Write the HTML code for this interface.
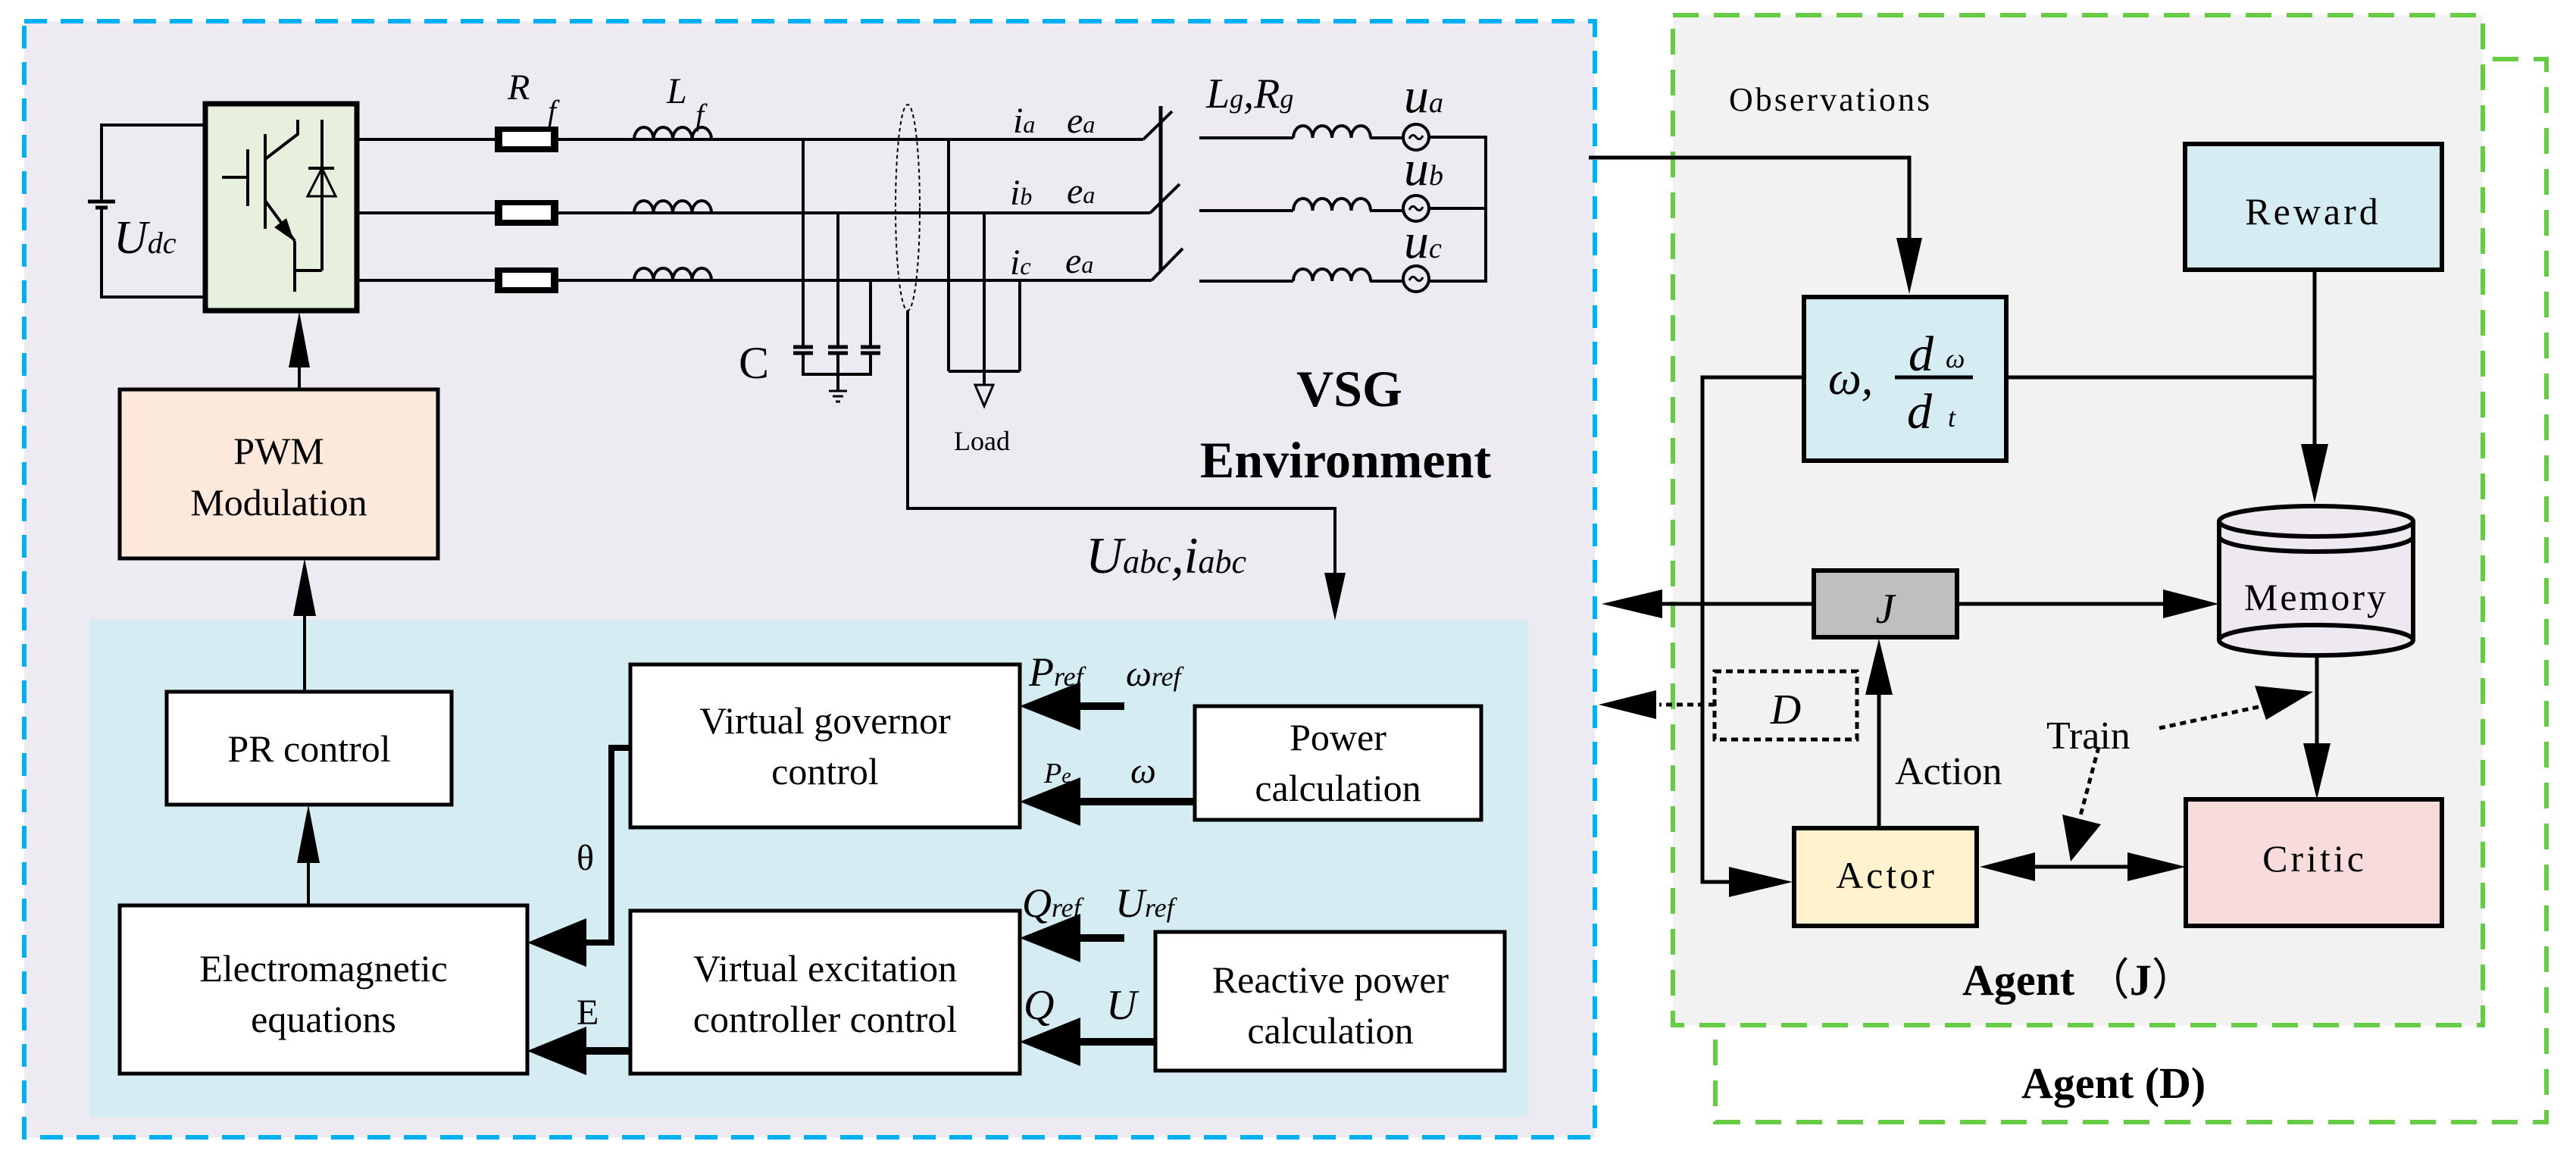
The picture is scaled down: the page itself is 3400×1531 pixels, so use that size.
<!DOCTYPE html>
<html><head><meta charset="utf-8"><style>
html,body{margin:0;padding:0;background:#fff}
svg{display:block}
svg text{font-family:"Liberation Serif","DejaVu Serif",serif;fill:#000}
</style></head><body>
<svg width="3400" height="1531" viewBox="0 0 3400 1531" xmlns="http://www.w3.org/2000/svg" font-family="Liberation Serif, DejaVu Serif, serif">
<!-- Agent D box -->
<rect x="2264" y="78" width="1097" height="1403" fill="#fff" stroke="#66cc44" stroke-width="6" stroke-dasharray="34,20"/>
<!-- Agent J box -->
<rect x="2208" y="20" width="1069" height="1333" fill="#f2f2f2" stroke="#66cc44" stroke-width="6" stroke-dasharray="34,20"/>
<!-- VSG env box -->
<rect x="32" y="28" width="2073" height="1473" fill="#eeeaf2" stroke="#00b0f0" stroke-width="6" stroke-dasharray="30,18"/>
<rect x="118" y="818" width="1900" height="656" fill="#d5ecf2"/>

<!-- inverter box fill -->
<rect x="271" y="137" width="200" height="273" fill="#e6f0dc"/>

<g stroke="#000" fill="none" stroke-width="4">
<polyline points="271,165 134,165 134,266"/>
<polyline points="271,392 134,392 134,274"/>
<line x1="116" y1="266" x2="152" y2="266" stroke-width="5"/>
<line x1="126" y1="274" x2="142" y2="274" stroke-width="5"/>
<line x1="474" y1="184" x2="1509" y2="184"/>
<line x1="474" y1="281" x2="1518" y2="281"/>
<line x1="474" y1="370" x2="1520" y2="370"/>
<line x1="1509" y1="184" x2="1547" y2="147"/>
<line x1="1518" y1="281" x2="1557" y2="243"/>
<line x1="1520" y1="370" x2="1561" y2="328"/>
<line x1="1532" y1="140" x2="1532" y2="357" stroke-width="5"/>
<line x1="1583" y1="182" x2="1707" y2="182"/>
<line x1="1583" y1="278" x2="1707" y2="278"/>
<line x1="1583" y1="371" x2="1707" y2="371"/>
<line x1="1808" y1="182" x2="1852" y2="182"/>
<line x1="1808" y1="278" x2="1852" y2="278"/>
<line x1="1808" y1="371" x2="1852" y2="371"/>
<polyline points="1886,181 1961,181 1961,371 1886,371"/>
<line x1="1886" y1="275" x2="1961" y2="275"/>
<circle cx="1869" cy="181" r="17"/><circle cx="1869" cy="275" r="17"/><circle cx="1869" cy="368" r="17"/>
<path d="M1860,183 q4,-8 9,-2 q5,6 9,-2" stroke-width="3"/>
<path d="M1860,277 q4,-8 9,-2 q5,6 9,-2" stroke-width="3"/>
<path d="M1860,370 q4,-8 9,-2 q5,6 9,-2" stroke-width="3"/>
<path d="M1707,182 a12.75,16 0 0 1 25.5,0 a12.75,16 0 0 1 25.5,0 a12.75,16 0 0 1 25.5,0 a12.75,16 0 0 1 25.5,0"/>
<path d="M1707,278 a12.75,16 0 0 1 25.5,0 a12.75,16 0 0 1 25.5,0 a12.75,16 0 0 1 25.5,0 a12.75,16 0 0 1 25.5,0"/>
<path d="M1707,371 a12.75,16 0 0 1 25.5,0 a12.75,16 0 0 1 25.5,0 a12.75,16 0 0 1 25.5,0 a12.75,16 0 0 1 25.5,0"/>
<line x1="1060" y1="184" x2="1060" y2="458"/>
<line x1="1106" y1="281" x2="1106" y2="458"/>
<line x1="1149" y1="370" x2="1149" y2="458"/>
<line x1="1047" y1="458" x2="1073" y2="458" stroke-width="5"/><line x1="1047" y1="466" x2="1073" y2="466" stroke-width="5"/>
<line x1="1093" y1="458" x2="1119" y2="458" stroke-width="5"/><line x1="1093" y1="466" x2="1119" y2="466" stroke-width="5"/>
<line x1="1136" y1="458" x2="1162" y2="458" stroke-width="5"/><line x1="1136" y1="466" x2="1162" y2="466" stroke-width="5"/>
<polyline points="1060,466 1060,494 1149,494 1149,466"/>
<line x1="1106" y1="466" x2="1106" y2="516"/>
<line x1="1094" y1="516" x2="1118" y2="516" stroke-width="3"/>
<line x1="1099" y1="523" x2="1113" y2="523" stroke-width="3"/>
<line x1="1103" y1="530" x2="1109" y2="530" stroke-width="3"/>
<line x1="1252" y1="184" x2="1252" y2="490"/>
<line x1="1299" y1="281" x2="1299" y2="508"/>
<line x1="1346" y1="370" x2="1346" y2="490"/>
<line x1="1252" y1="490" x2="1346" y2="490"/>
<polygon points="1287,508 1311,508 1299,536" stroke-width="3"/>
<ellipse cx="1198" cy="274" rx="16" ry="136" stroke-width="2" stroke-dasharray="5,4"/>
<polyline points="1198,410 1198,671 1762,671 1762,760"/>
<line x1="293" y1="234" x2="327" y2="234"/>
<line x1="327" y1="197" x2="327" y2="272"/>
<line x1="350" y1="177" x2="350" y2="302"/>
<polyline points="350,210 393,177 393,158"/>
<line x1="350" y1="265" x2="389" y2="318"/>
<line x1="389" y1="318" x2="389" y2="385"/>
<line x1="425" y1="158" x2="425" y2="357"/>
<line x1="389" y1="357" x2="425" y2="357"/>
<line x1="407" y1="222" x2="441" y2="222"/>
<polygon points="406,259 443,259 425,222" stroke-width="3"/>
<path d="M837,184 a12.75,16 0 0 1 25.5,0 a12.75,16 0 0 1 25.5,0 a12.75,16 0 0 1 25.5,0 a12.75,16 0 0 1 25.5,0"/>
<path d="M837,281 a12.75,16 0 0 1 25.5,0 a12.75,16 0 0 1 25.5,0 a12.75,16 0 0 1 25.5,0 a12.75,16 0 0 1 25.5,0"/>
<path d="M837,370 a12.75,16 0 0 1 25.5,0 a12.75,16 0 0 1 25.5,0 a12.75,16 0 0 1 25.5,0 a12.75,16 0 0 1 25.5,0"/>
</g>
<polygon points="378,288 388,318 362,300" fill="#000"/>
<rect x="271" y="137" width="200" height="273" fill="none" stroke="#000" stroke-width="7"/>
<g fill="#000">
<rect x="653" y="167" width="84" height="34"/><rect x="653" y="264" width="84" height="34"/><rect x="653" y="353" width="84" height="34"/>
</g>
<g fill="#fff">
<rect x="663" y="174" width="64" height="19"/><rect x="663" y="271" width="64" height="19"/><rect x="663" y="360" width="64" height="19"/>
</g>

<text x="150" y="334" font-size="62" font-style="italic">U<tspan font-size="40">dc</tspan></text>
<text x="670" y="131" font-size="48" font-style="italic">R</text>
<text x="723" y="160" font-size="40" font-style="italic">f</text>
<text x="880" y="136" font-size="48" font-style="italic">L</text>
<text x="918" y="165" font-size="40" font-style="italic">f</text>
<text x="1337" y="175" font-size="48" font-style="italic">i<tspan font-size="32">a</tspan></text>
<text x="1408" y="175" font-size="48" font-style="italic">e<tspan font-size="32">a</tspan></text>
<text x="1333" y="270" font-size="48" font-style="italic">i<tspan font-size="32">b</tspan></text>
<text x="1408" y="268" font-size="48" font-style="italic">e<tspan font-size="32">a</tspan></text>
<text x="1333" y="362" font-size="48" font-style="italic">i<tspan font-size="32">c</tspan></text>
<text x="1406" y="360" font-size="48" font-style="italic">e<tspan font-size="32">a</tspan></text>
<text x="1592" y="142" font-size="56" font-style="italic">L<tspan font-size="36">g</tspan>,R<tspan font-size="36">g</tspan></text>
<text x="1853" y="148" font-size="66" font-style="italic">u<tspan font-size="38">a</tspan></text>
<text x="1853" y="244" font-size="66" font-style="italic">u<tspan font-size="38">b</tspan></text>
<text x="1853" y="340" font-size="66" font-style="italic">u<tspan font-size="38">c</tspan></text>
<text x="975" y="499" font-size="60">C</text>
<text x="1259" y="594" font-size="36">Load</text>
<text x="1781" y="536" font-size="68" font-weight="bold" text-anchor="middle">VSG</text>
<text x="1776" y="630" font-size="68" font-weight="bold" text-anchor="middle">Environment</text>
<text x="1433" y="756" font-size="68" font-style="italic">U<tspan font-size="44">abc</tspan>,i<tspan font-size="44">abc</tspan></text>

<g stroke="#000" stroke-width="4">
<line x1="395" y1="514" x2="395" y2="480"/>
<line x1="402" y1="913" x2="402" y2="810"/>
<line x1="407" y1="1195" x2="407" y2="1135"/>
<line x1="1484" y1="932" x2="1420" y2="932" stroke-width="10"/>
<line x1="1577" y1="1058" x2="1420" y2="1058" stroke-width="10"/>
<line x1="1484" y1="1238" x2="1420" y2="1238" stroke-width="10"/>
<line x1="1525" y1="1375" x2="1420" y2="1375" stroke-width="10"/>
<polyline points="832,987 807,987 807,1244 770,1244" fill="none" stroke-width="8"/>
<line x1="832" y1="1387" x2="770" y2="1387" stroke-width="10"/>
</g>
<g fill="#000">
<polygon points="395,411 381,485 409,485"/>
<polygon points="402,737 387,813 417,813"/>
<polygon points="407,1062 392,1139 422,1139"/>
<polygon points="1762,819 1748,756 1776,756"/>
<polygon points="1346,932 1426,900 1426,964"/>
<polygon points="1346,1058 1426,1026 1426,1090"/>
<polygon points="1346,1238 1426,1206 1426,1270"/>
<polygon points="1346,1375 1426,1343 1426,1407"/>
<polygon points="696,1244 774,1212 774,1276"/>
<polygon points="696,1387 774,1355 774,1419"/>
</g>

<g stroke="#000" stroke-width="5">
<rect x="158" y="514" width="420" height="223" fill="#fde9dc"/>
<rect x="220" y="913" width="376" height="149" fill="#fff"/>
<rect x="158" y="1195" width="538" height="222" fill="#fff"/>
<rect x="832" y="877" width="514" height="215" fill="#fff"/>
<rect x="1577" y="932" width="378" height="150" fill="#fff"/>
<rect x="832" y="1202" width="514" height="215" fill="#fff"/>
<rect x="1525" y="1230" width="461" height="183" fill="#fff"/>
</g>
<g font-size="50" text-anchor="middle">
<text x="368" y="612">PWM</text>
<text x="368" y="680">Modulation</text>
<text x="408" y="1005">PR control</text>
<text x="427" y="1295">Electromagnetic</text>
<text x="427" y="1362">equations</text>
<text x="1089" y="968">Virtual governor</text>
<text x="1089" y="1035">control</text>
<text x="1766" y="990">Power</text>
<text x="1766" y="1057">calculation</text>
<text x="1089" y="1295">Virtual excitation</text>
<text x="1089" y="1362">controller control</text>
<text x="1756" y="1310">Reactive power</text>
<text x="1756" y="1377">calculation</text>
</g>
<text x="1358" y="905" font-size="54" font-style="italic">P<tspan font-size="36">ref</tspan></text>
<text x="1486" y="905" font-size="48" font-style="italic">ω<tspan font-size="36">ref</tspan></text>
<text x="1378" y="1033" font-size="38" font-style="italic">P<tspan font-size="28">e</tspan></text>
<text x="1492" y="1033" font-size="48" font-style="italic">ω</text>
<text x="1349" y="1210" font-size="54" font-style="italic">Q<tspan font-size="36">ref</tspan></text>
<text x="1472" y="1210" font-size="54" font-style="italic">U<tspan font-size="36">ref</tspan></text>
<text x="1351" y="1345" font-size="56" font-style="italic">Q</text>
<text x="1460" y="1345" font-size="56" font-style="italic">U</text>
<text x="761" y="1148" font-size="48">θ</text>
<text x="761" y="1352" font-size="48">E</text>

<g stroke="#000" stroke-width="5" fill="none">
<polyline points="2097,208 2520,208 2520,320"/>
<polyline points="2380,498 2247,498 2247,1164 2290,1164"/>
<polyline points="2648,498 3055,498"/>
<line x1="3055" y1="356" x2="3055" y2="590"/>
<line x1="2394" y1="797" x2="2190" y2="797"/>
<line x1="2583" y1="797" x2="2860" y2="797"/>
<line x1="2480" y1="1093" x2="2480" y2="915"/>
<line x1="3058" y1="864" x2="3058" y2="985"/>
<line x1="2680" y1="1144" x2="2810" y2="1144"/>
<line x1="2263" y1="930" x2="2190" y2="930" stroke-dasharray="8,6"/>
<polyline points="2770,986 2745,1080" stroke-dasharray="8,6"/>
<polyline points="2850,961 2995,930" stroke-dasharray="8,6"/>
</g>
<g fill="#000">
<polygon points="2520,388 2503,314 2537,314"/>
<polygon points="2366,1164 2282,1144 2282,1184"/>
<polygon points="3055,664 3037,586 3073,586"/>
<polygon points="2114,797 2194,778 2194,816"/>
<polygon points="2929,797 2855,778 2855,816"/>
<polygon points="2110,930 2186,911 2186,949"/>
<polygon points="2480,843 2462,917 2498,917"/>
<polygon points="3058,1055 3040,981 3076,981"/>
<polygon points="2613,1144 2686,1125 2686,1163"/>
<polygon points="2885,1144 2808,1125 2808,1163"/>
<polygon points="2733,1137 2722,1075 2773,1088"/>
<polygon points="3053,913 2976,905 2991,950"/>
</g>
<g stroke="#000" stroke-width="6">
<rect x="2884" y="190" width="339" height="166" fill="#d5ecf2"/>
<rect x="2381" y="392" width="267" height="216" fill="#d5ecf2"/>
<rect x="2394" y="753" width="189" height="88" fill="#bfbfbf"/>
<rect x="2368" y="1093" width="241" height="129" fill="#fff2cc"/>
<rect x="2885" y="1055" width="338" height="167" fill="#f8dcdc"/>
</g>
<rect x="2263" y="886" width="188" height="90" fill="none" stroke="#000" stroke-width="5" stroke-dasharray="9,6"/>
<g stroke="#000" stroke-width="6" fill="#eee8f0">
<path d="M2929,688 L2929,845 A128,20 0 0 0 3185,845 L3185,688"/>
<ellipse cx="3057" cy="688" rx="128" ry="20"/>
<path d="M2929,708 A128,20 0 0 0 3185,708" fill="none"/>
<path d="M2929,845 A128,20 0 0 1 3185,845" fill="none"/>
</g>
<text x="2282" y="146" font-size="44" letter-spacing="3">Observations</text>
<text x="3053" y="296" font-size="50" letter-spacing="4" text-anchor="middle">Reward</text>
<text x="3057" y="805" font-size="50" letter-spacing="3" text-anchor="middle">Memory</text>
<text x="2488" y="822" font-size="56" font-style="italic" text-anchor="middle">J</text>
<text x="2357" y="955" font-size="56" font-style="italic" text-anchor="middle">D</text>
<text x="2490" y="1172" font-size="50" letter-spacing="4" text-anchor="middle">Actor</text>
<text x="3055" y="1150" font-size="50" letter-spacing="4" text-anchor="middle">Critic</text>
<text x="2501" y="1035" font-size="52">Action</text>
<text x="2701" y="988" font-size="52">Train</text>
<text x="2590" y="1313" font-size="58" font-weight="bold">Agent <tspan font-family="Noto Sans CJK SC, sans-serif" font-weight="normal">（</tspan>J<tspan font-family="Noto Sans CJK SC, sans-serif" font-weight="normal">）</tspan></text>
<text x="2668" y="1449" font-size="58" font-weight="bold">Agent (D)</text>
<text x="2413" y="520" font-size="62" font-style="italic">ω,</text>
<line x1="2501" y1="498" x2="2604" y2="498" stroke="#000" stroke-width="5"/>
<text x="2519" y="489" font-size="66" font-style="italic">d</text>
<text x="2568" y="485" font-size="36" font-style="italic">ω</text>
<text x="2517" y="565" font-size="66" font-style="italic">d</text>
<text x="2571" y="563" font-size="36" font-style="italic">t</text>
</svg>
</body></html>
